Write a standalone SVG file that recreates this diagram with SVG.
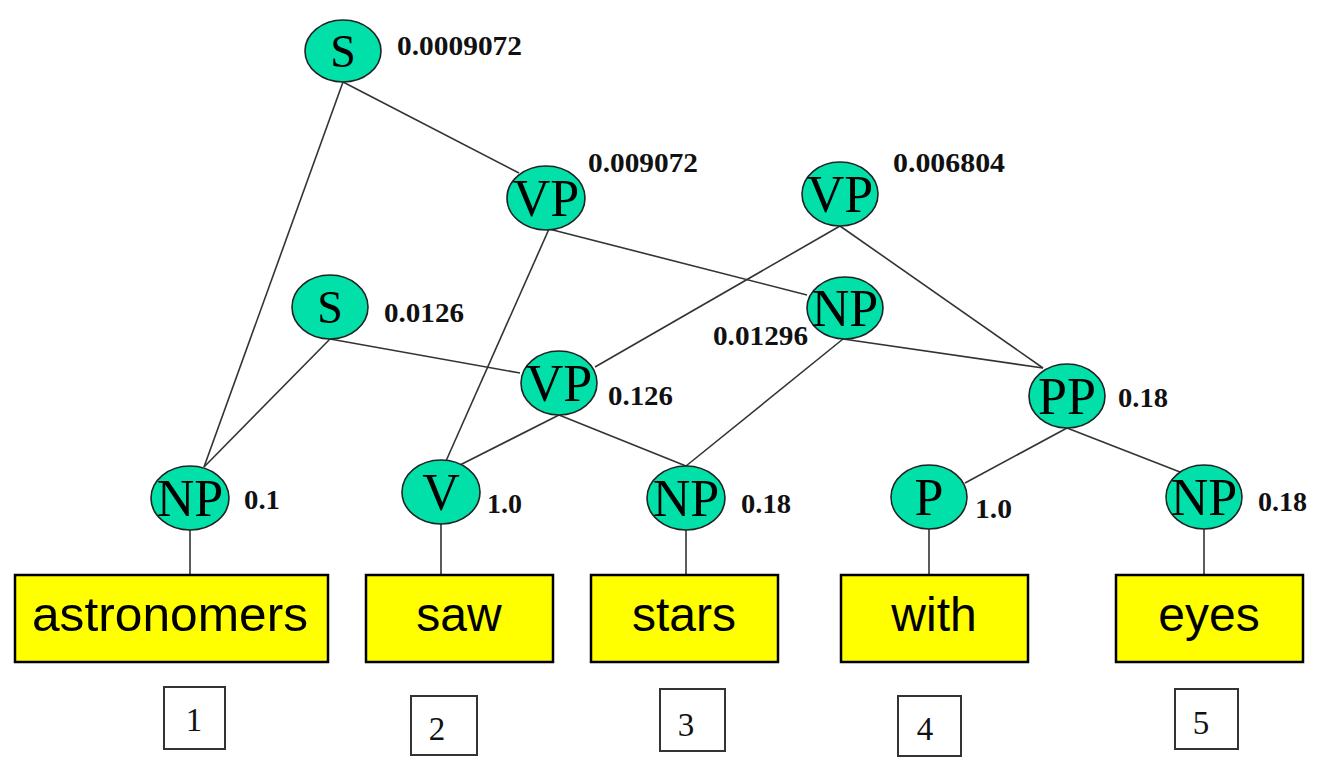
<svg xmlns="http://www.w3.org/2000/svg" width="1328" height="759" viewBox="0 0 1328 759">
<style>
.bg{fill:#ffffff}
.edge{stroke:#333333;stroke-width:1.6;fill:none}
.node ellipse{fill:#00E0A8;stroke:#222222;stroke-width:1.6}
.lbl{font-family:"Liberation Serif","Times New Roman",serif;font-size:52px;fill:#000;text-anchor:middle}
.lbls{font-family:"Liberation Serif","Times New Roman",serif;font-size:46px;fill:#000;text-anchor:middle}
.prob{font-family:"Liberation Serif","Times New Roman",serif;font-size:27px;font-weight:bold;fill:#111}
.word rect{fill:#FFFF00;stroke:#000;stroke-width:2.5}
.word text{font-family:"Liberation Sans",Arial,sans-serif;font-size:48px;fill:#000;text-anchor:middle}
.idx rect{fill:#fff;stroke:#333;stroke-width:2}
.idx text{font-family:"Liberation Serif","Times New Roman",serif;font-size:33px;fill:#111;text-anchor:middle}
</style>
<rect class="bg" x="0" y="0" width="1328" height="759"/>
<g id="connectors">
<line class="edge" x1="343" y1="82" x2="204" y2="467"/>
<line class="edge" x1="343" y1="82" x2="519" y2="173"/>
<line class="edge" x1="549" y1="229" x2="446" y2="461"/>
<line class="edge" x1="549" y1="229" x2="807" y2="295"/>
<line class="edge" x1="840" y1="226" x2="595" y2="367"/>
<line class="edge" x1="840" y1="226" x2="1043" y2="368"/>
<line class="edge" x1="330" y1="339" x2="204" y2="467"/>
<line class="edge" x1="330" y1="339" x2="520" y2="373"/>
<line class="edge" x1="843" y1="339" x2="1043" y2="368"/>
<line class="edge" x1="843" y1="339" x2="686" y2="466"/>
<line class="edge" x1="559" y1="415" x2="458" y2="466"/>
<line class="edge" x1="559" y1="415" x2="686" y2="466"/>
<line class="edge" x1="1067" y1="428" x2="965" y2="483"/>
<line class="edge" x1="1067" y1="428" x2="1180" y2="472"/>
<line class="edge" x1="190" y1="530" x2="190" y2="575"/>
<line class="edge" x1="441" y1="524" x2="441" y2="575"/>
<line class="edge" x1="686" y1="530" x2="686" y2="575"/>
<line class="edge" x1="929" y1="529" x2="929" y2="575"/>
<line class="edge" x1="1204" y1="529" x2="1204" y2="575"/>
</g>
<g id="node-S-top" class="node"><ellipse cx="343" cy="51" rx="38" ry="31"/><text class="lbls" x="343" y="67">S</text><text class="prob" x="397" y="55" textLength="125" lengthAdjust="spacingAndGlyphs">0.0009072</text></g>
<g id="node-VP-1" class="node"><ellipse cx="546" cy="198" rx="39" ry="32"/><text class="lbl" x="546" y="216">VP</text><text class="prob" x="588" y="172" textLength="110" lengthAdjust="spacingAndGlyphs">0.009072</text></g>
<g id="node-VP-2" class="node"><ellipse cx="840" cy="194" rx="38" ry="32"/><text class="lbl" x="840" y="212">VP</text><text class="prob" x="893" y="172" textLength="112" lengthAdjust="spacingAndGlyphs">0.006804</text></g>
<g id="node-S-mid" class="node"><ellipse cx="330" cy="307" rx="38" ry="32"/><text class="lbls" x="330" y="323">S</text><text class="prob" x="384" y="322" textLength="80" lengthAdjust="spacingAndGlyphs">0.0126</text></g>
<g id="node-NP-mid" class="node"><ellipse cx="845" cy="308" rx="38" ry="31"/><text class="lbl" x="845" y="326">NP</text><text class="prob" x="713" y="345" textLength="95" lengthAdjust="spacingAndGlyphs">0.01296</text></g>
<g id="node-VP-mid" class="node"><ellipse cx="559" cy="383" rx="38" ry="32"/><text class="lbl" x="559" y="401">VP</text><text class="prob" x="608" y="405" textLength="65" lengthAdjust="spacingAndGlyphs">0.126</text></g>
<g id="node-PP" class="node"><ellipse cx="1067" cy="396" rx="38" ry="32"/><text class="lbl" x="1067" y="414">PP</text><text class="prob" x="1118" y="407" textLength="50" lengthAdjust="spacingAndGlyphs">0.18</text></g>
<g id="node-NP-1" class="node"><ellipse cx="190" cy="498" rx="39" ry="32"/><text class="lbl" x="190" y="516">NP</text><text class="prob" x="244" y="509" textLength="36" lengthAdjust="spacingAndGlyphs">0.1</text></g>
<g id="node-V" class="node"><ellipse cx="441" cy="492" rx="39" ry="32"/><text class="lbl" x="441" y="510">V</text><text class="prob" x="487" y="513" textLength="35" lengthAdjust="spacingAndGlyphs">1.0</text></g>
<g id="node-NP-2" class="node"><ellipse cx="686" cy="498" rx="39" ry="32"/><text class="lbl" x="686" y="516">NP</text><text class="prob" x="741" y="513" textLength="50" lengthAdjust="spacingAndGlyphs">0.18</text></g>
<g id="node-P" class="node"><ellipse cx="929" cy="497" rx="38" ry="32"/><text class="lbl" x="929" y="515">P</text><text class="prob" x="975" y="518" textLength="37" lengthAdjust="spacingAndGlyphs">1.0</text></g>
<g id="node-NP-3" class="node"><ellipse cx="1204" cy="497" rx="38" ry="32"/><text class="lbl" x="1204" y="515">NP</text><text class="prob" x="1258" y="511" textLength="49" lengthAdjust="spacingAndGlyphs">0.18</text></g>
<g id="word-astronomers" class="word"><rect x="15" y="575" width="313" height="87"/><text x="170" y="631" textLength="276" lengthAdjust="spacingAndGlyphs">astronomers</text></g>
<g id="word-saw" class="word"><rect x="366" y="575" width="187" height="87"/><text x="459" y="631">saw</text></g>
<g id="word-stars" class="word"><rect x="591" y="575" width="187" height="87"/><text x="684" y="631">stars</text></g>
<g id="word-with" class="word"><rect x="841" y="575" width="187" height="87"/><text x="934" y="631">with</text></g>
<g id="word-eyes" class="word"><rect x="1116" y="575" width="187" height="87"/><text x="1209" y="631">eyes</text></g>
<g id="index-1" class="idx"><rect x="164" y="687" width="61" height="62"/><text x="194" y="731">1</text></g>
<g id="index-2" class="idx"><rect x="411" y="696" width="66" height="59"/><text x="437" y="740">2</text></g>
<g id="index-3" class="idx"><rect x="660" y="689" width="65" height="62"/><text x="686" y="736">3</text></g>
<g id="index-4" class="idx"><rect x="898" y="696" width="63" height="60"/><text x="925" y="740">4</text></g>
<g id="index-5" class="idx"><rect x="1175" y="689" width="63" height="60"/><text x="1201" y="734">5</text></g>
</svg>
